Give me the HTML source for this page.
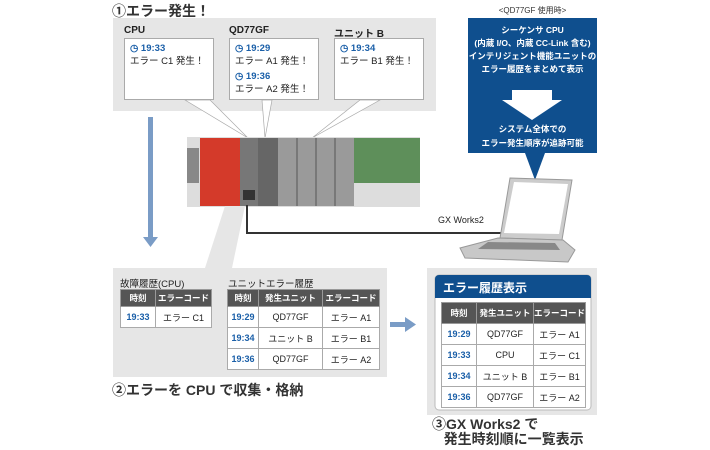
<!DOCTYPE html>
<html><head><meta charset="utf-8"><style>
*{margin:0;padding:0;box-sizing:border-box}
body{width:710px;height:450px;background:#fff;position:relative;overflow:hidden;font-family:"Liberation Sans","Noto Sans CJK JP",sans-serif;color:#222}
.a{position:absolute}
.ttl{font-weight:bold;font-size:14px;color:#333;white-space:nowrap}
.lbl{font-size:10px;font-weight:bold;color:#222;white-space:nowrap}
.bub{background:#fff;border:1px solid #aaa;font-size:9.5px;padding:3px 5px;line-height:13px;white-space:nowrap}
.t{color:#1a5fa8;font-weight:bold}
table{border-collapse:collapse;font-size:9px;background:#fff;white-space:nowrap}
th{background:#555;color:#fff;font-weight:bold;border:1px solid #999;height:17px;font-size:8.5px;padding:0}
td{border:1px solid #aaa;text-align:center;height:21px;padding:0}
td.t{color:#1a5fa8}
</style></head><body>
<div class="a ttl" style="left:112px;top:1px">①エラー発生！</div>
<div class="a" style="left:113px;top:18px;width:323px;height:93px;background:#e6e6e6"></div>
<div class="a lbl" style="left:124px;top:25px">CPU</div>
<div class="a lbl" style="left:229px;top:25px">QD77GF</div>
<div class="a lbl" style="left:334px;top:25px">ユニット B</div>
<div class="a bub" style="left:124px;top:38px;width:90px;height:62px"><span class="t">◷ 19:33</span><br>エラー C1 発生！</div>
<div class="a bub" style="left:229px;top:38px;width:90px;height:62px"><span class="t">◷ 19:29</span><br>エラー A1 発生！<br><div style="height:2px"></div><span class="t">◷ 19:36</span><br>エラー A2 発生！</div>
<div class="a bub" style="left:334px;top:38px;width:90px;height:62px"><span class="t">◷ 19:34</span><br>エラー B1 発生！</div>
<svg class="a" style="left:0;top:0" width="710" height="450">
<polygon points="185,100 210,100 248,138" fill="#fff" stroke="#aaa" stroke-width="0.7"/>
<polygon points="262,100 272,100 265,138" fill="#fff" stroke="#aaa" stroke-width="0.7"/>
<polygon points="360,100 380,100 312,138" fill="#fff" stroke="#aaa" stroke-width="0.7"/>
<rect x="148" y="117" width="5" height="122" fill="#7a9cc6"/>
<polygon points="143,237 158,237 150.5,247" fill="#7a9cc6"/>
<rect x="187" y="137" width="233" height="70" fill="#ddd"/>
<rect x="187" y="148" width="12" height="35" fill="#888"/>
<rect x="200" y="138" width="40" height="68" fill="#d43a2a"/>
<rect x="240" y="138" width="18" height="68" fill="#777"/>
<rect x="258" y="138" width="20" height="68" fill="#666"/>
<rect x="278" y="138" width="76" height="68" fill="#9a9a9a"/>
<g stroke="#555" stroke-width="1"><line x1="297" y1="138" x2="297" y2="206"/><line x1="316" y1="138" x2="316" y2="206"/><line x1="335" y1="138" x2="335" y2="206"/></g>
<rect x="354" y="138" width="66" height="45" fill="#5e8f5a"/>
<rect x="243" y="190" width="12" height="10" fill="#333"/>
<polyline points="247,205 247,233 512,233" fill="none" stroke="#333" stroke-width="2"/>
<polygon points="225,206 245,206 232,268 205,268" fill="#e6e6e6"/>
<rect x="468" y="18" width="129" height="135" fill="#0f4f8e"/>
<polygon points="525,153 545,153 535,180" fill="#0f4f8e"/>
<polygon points="512,90 552,90 552,100 562,100 532,120 502,100 512,100" fill="#fff"/>
<polygon points="510,178 572,180 562,240 500,238" fill="#ccc" stroke="#999"/>
<polygon points="514,182 568,184 559,234 504,233" fill="#fff"/>
<polygon points="498,238 563,240 575,250 568,262 465,258 460,248" fill="#c8c8c8" stroke="#999"/>
<polygon points="488,242 555,243 560,250 478,249" fill="#888"/>
<rect x="113" y="268" width="274" height="109" fill="#e6e6e6"/>
<rect x="390" y="322" width="16" height="5" fill="#7a9cc6"/>
<polygon points="405,317 416,324.5 405,332" fill="#7a9cc6"/>
<rect x="427" y="268" width="170" height="147" fill="#e6e6e6"/>
<rect x="435" y="275" width="156" height="135" rx="4" fill="#fff" stroke="#bbb"/>
<path d="M435,298 V279 a4,4 0 0 1 4,-4 H587 a4,4 0 0 1 4,4 V298 Z" fill="#0f4f8e"/>
</svg>
<div class="a" style="left:468px;top:5px;width:129px;text-align:center;font-size:8px;color:#333">&lt;QD77GF 使用時&gt;</div>
<div class="a" style="left:468px;top:24px;width:129px;text-align:center;font-size:8.5px;line-height:13px;color:#fff;font-weight:bold;white-space:nowrap">シーケンサ CPU<br>(内蔵 I/O、内蔵 CC-Link 含む)<br>インテリジェント機能ユニットの<br>エラー履歴をまとめて表示</div>
<div class="a" style="left:468px;top:122px;width:129px;text-align:center;font-size:8.5px;line-height:14px;color:#fff;font-weight:bold">システム全体での<br>エラー発生順序が追跡可能</div>
<div class="a" style="left:438px;top:215px;font-size:9px">GX Works2</div>
<div class="a lbl" style="left:120px;top:276px;font-weight:normal;font-size:9.5px">故障履歴(CPU)</div>
<div class="a lbl" style="left:228px;top:276px;font-weight:normal;font-size:9.5px">ユニットエラー履歴</div>
<table class="a" style="left:120px;top:289px;width:92px"><tr><th style="width:35px">時刻</th><th>エラーコード</th></tr><tr><td class="t">19:33</td><td>エラー C1</td></tr></table>
<table class="a" style="left:227px;top:289px;width:153px"><tr><th style="width:31px">時刻</th><th style="width:64px">発生ユニット</th><th>エラーコード</th></tr>
<tr><td class="t">19:29</td><td>QD77GF</td><td>エラー A1</td></tr>
<tr><td class="t">19:34</td><td>ユニット B</td><td>エラー B1</td></tr>
<tr><td class="t">19:36</td><td>QD77GF</td><td>エラー A2</td></tr></table>
<div class="a ttl" style="left:112px;top:380px">②エラーを CPU で収集・格納</div>
<div class="a" style="left:443px;top:279px;color:#fff;font-weight:bold;font-size:12px">エラー履歴表示</div>
<table class="a" style="left:441px;top:302px;width:144px;table-layout:fixed"><colgroup><col style="width:35px"><col style="width:57px"><col style="width:52px"></colgroup><tr><th style="height:21px">時刻</th><th>発生ユニット</th><th>エラーコード</th></tr>
<tr><td class="t">19:29</td><td>QD77GF</td><td>エラー A1</td></tr>
<tr><td class="t">19:33</td><td>CPU</td><td>エラー C1</td></tr>
<tr><td class="t">19:34</td><td>ユニット B</td><td>エラー B1</td></tr>
<tr><td class="t">19:36</td><td>QD77GF</td><td>エラー A2</td></tr></table>
<div class="a ttl" style="left:432px;top:417px;line-height:15px">③GX Works2 で<br>&nbsp;&nbsp;&nbsp;発生時刻順に一覧表示</div>
</body></html>
